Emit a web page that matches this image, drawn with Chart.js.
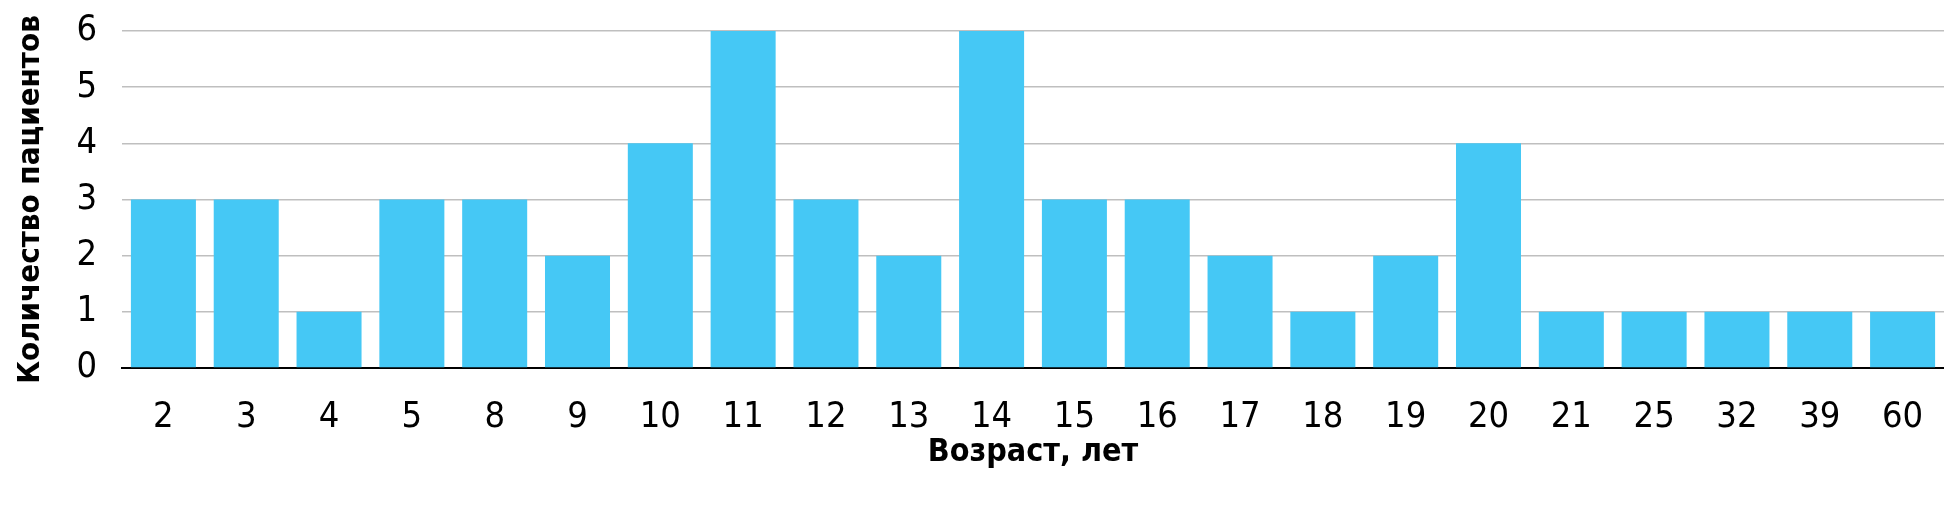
<!DOCTYPE html>
<html><head><meta charset="utf-8">
<script src="https://cdn.jsdelivr.net/npm/chart.js@4/dist/chart.umd.min.js"></script>
<style>html,body{margin:0;padding:0;background:#fff}#w{width:1944px;height:506px}</style>
</head><body><div id="w"><canvas id="c"></canvas></div>
<script>
const categories = ["2","3","4","5","8","9","10","11","12","13","14","15","16","17","18","19","20","21","25","32","39","60"];
const patients = [3,3,1,3,3,2,4,6,3,2,6,3,3,2,1,2,4,1,1,1,1,1];
const yTicks = [0,1,2,3,4,5,6];
const xTitle = "Возраст, лет";
const yTitle = "Количество пациентов";
const FONT = "'DejaVu Sans Condensed','Liberation Sans',sans-serif";
new Chart(document.getElementById('c'), {
  type: 'bar',
  data: { labels: categories, datasets: [{ data: patients, backgroundColor: '#45C8F5', categoryPercentage: 0.785, barPercentage: 1 }] },
  options: {
    responsive: true, maintainAspectRatio: false, animation: false,
    layout: { padding: { top: 31, right: 0, left: 0, bottom: 0 } },
    plugins: { legend: { display: false }, tooltip: { enabled: false } },
    scales: {
      x: {
        afterFit: s => { s.height = 138; s.paddingLeft = 0; s.paddingRight = 0; },
        grid: { display: false },
        border: { color: '#000', width: 2 },
        ticks: { color: '#000', font: { family: FONT, size: 36 }, padding: 20, maxRotation: 0, autoSkip: false },
        title: { display: true, text: xTitle, color: '#000', font: { family: FONT, size: 32, weight: 'bold' }, padding: { top: 0, bottom: 34 } }
      },
      y: {
        min: 0, max: 6,
        afterFit: s => { s.width = 122; s.paddingTop = 0; s.paddingBottom = 0; },
        afterBuildTicks: s => { s.ticks = yTicks.map(v => ({ value: v })); },
        grid: { color: ctx => ctx.tick && ctx.tick.value === 0 ? 'rgba(0,0,0,0)' : '#BFBFBF', lineWidth: 1.5, drawTicks: false },
        border: { display: false },
        ticks: { color: '#000', font: { family: FONT, size: 36 }, padding: 25 },
        title: { display: true, text: yTitle, color: '#000', font: { family: FONT, size: 31, weight: 'bold' }, padding: { top: 12, bottom: 0 } }
      }
    }
  }
});
</script></body></html>
